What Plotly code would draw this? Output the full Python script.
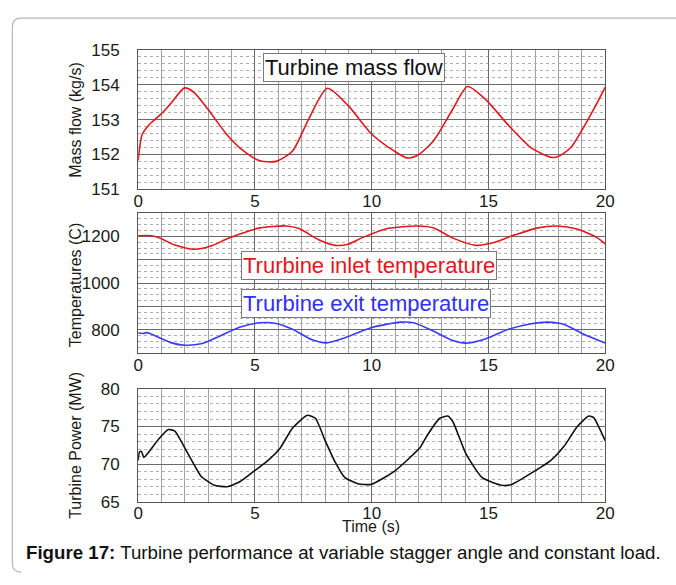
import plotly.graph_objects as go

W, H = 676, 585

# Turbine mass flow (kg/s)
mass_time = [0, 0.17, 0.45, 1.0, 1.43, 1.99, 2.41, 2.97, 3.81, 4.51, 5.21, 5.91, 6.61, 7.31,
             8.1, 8.99, 9.97, 10.95, 11.51, 11.93, 12.63, 13.48, 14.1, 14.87, 15.85, 16.83,
             17.67, 17.95, 18.52, 19.36, 20]
mass_flow = [151.83, 152.57, 152.84, 153.17, 153.49, 153.91, 153.77, 153.31, 152.56, 152.10,
             151.82, 151.80, 152.10, 153.03, 153.90, 153.40, 152.60, 152.10, 151.90, 151.96,
             152.38, 153.31, 153.95, 153.58, 152.84, 152.19, 151.92, 151.93, 152.20, 153.12,
             153.93]

# Turbine inlet temperature (C)
inlet_time = [0, 0.59, 1.0, 1.57, 2.41, 3.11, 3.81, 4.51, 5.21, 6.33, 6.89, 7.73, 8.43, 8.99,
              9.55, 10.67, 11.93, 12.63, 13.48, 14.45, 15.15, 16.13, 17.11, 17.95, 18.79,
              19.63, 20]
inlet_temp = [1203, 1203, 1190, 1163, 1145, 1159, 1190, 1216, 1237, 1245, 1234, 1186, 1162,
              1167, 1193, 1234, 1245, 1237, 1193, 1162, 1172, 1207, 1237, 1245, 1232, 1196,
              1168]

# Turbine exit temperature (C)
exit_time = [0, 0.2, 0.38, 0.87, 1.43, 1.99, 2.69, 3.53, 4.37, 5.21, 5.91, 6.61, 7.45, 8.05,
             8.99, 9.97, 11.23, 11.79, 12.63, 13.48, 14.03, 14.87, 15.85, 16.83, 17.53, 18.24,
             19.08, 20]
exit_temp = [786, 784, 788, 768, 744, 734, 740, 775, 812, 830, 827, 802, 757, 744, 771, 809,
             833, 830, 795, 754, 743, 761, 802, 826, 833, 823, 781, 743]

# Turbine power (MW)
power_time = [0, 0.05, 0.14, 0.24, 0.45, 0.87, 1.29, 1.57, 2.13, 2.69, 3.25, 3.81, 4.37, 4.93,
              5.49, 6.05, 6.61, 7.24, 7.59, 8.01, 8.43, 8.85, 9.41, 9.97, 10.95, 12.07, 12.35,
              12.91, 13.26, 13.48, 14.03, 14.73, 15.57, 15.99, 16.83, 17.67, 18.24, 18.80,
              19.29, 19.50, 20]
power = [70.5, 71.6, 71.7, 70.9, 71.6, 73.3, 74.6, 74.4, 71.4, 68.4, 67.2, 67.0, 67.7, 69.0,
         70.3, 72.0, 74.8, 76.5, 76.1, 73.1, 70.3, 68.2, 67.4, 67.3, 69.0, 72.2, 73.7, 76.1,
         76.4, 75.6, 71.4, 68.2, 67.2, 67.3, 68.8, 70.5, 72.4, 75.0, 76.4, 76.2, 73.1]

x_ticks = [0, 5, 10, 15, 20]
mass_ticks = [151, 152, 153, 154, 155]
temp_ticks = [700, 800, 900, 1000, 1100, 1200, 1300]
temp_labels = ["", "800", "", "1000", "", "1200", ""]
power_ticks = [65, 70, 75, 80]


def px_x(p):
    return p / W


def px_y(p):
    return 1 - p / H


x_dom = [px_x(136), px_x(613)]
dom1 = [px_y(186.3), px_y(42.3)]
dom2 = [px_y(355.7), px_y(211)]
dom3 = [px_y(509.3), px_y(392.7)]

FONT = "Liberation Sans, Arial, sans-serif"
tick_font = dict(family=FONT, size=17, color="#1a1a1a")
MAJOR = "#6a6a6a"
MINOR_V = "#a0a0a0"
MINOR_H = "#b0b0b0"

fig = go.Figure()
fig.add_trace(go.Scatter(x=mass_time, y=mass_flow, mode="lines",
                         line=dict(color="#e3161c", width=1.6, shape="spline", smoothing=0.7),
                         xaxis="x", yaxis="y", showlegend=False))
fig.add_trace(go.Scatter(x=inlet_time, y=inlet_temp, mode="lines",
                         line=dict(color="#e3161c", width=1.6, shape="spline", smoothing=0.7),
                         xaxis="x2", yaxis="y2", showlegend=False))
fig.add_trace(go.Scatter(x=exit_time, y=exit_temp, mode="lines",
                         line=dict(color="#3a3aff", width=1.6, shape="spline", smoothing=0.7),
                         xaxis="x2", yaxis="y2", showlegend=False))
fig.add_trace(go.Scatter(x=power_time, y=power, mode="lines",
                         line=dict(color="#111111", width=1.6, shape="spline", smoothing=0.5),
                         xaxis="x3", yaxis="y3", showlegend=False))


def xaxis(anchor):
    return dict(domain=x_dom, anchor=anchor, range=[0, 20], tickmode="array",
                tickvals=x_ticks, ticks="", tickfont=tick_font, ticklabelstandoff=-4,
                showline=True, linecolor="#555555", linewidth=1.2, mirror=True,
                showgrid=True, gridcolor=MAJOR, gridwidth=1, zeroline=False,
                minor=dict(dtick=1, tick0=0, showgrid=True, gridcolor=MINOR_V,
                           griddash="solid", gridwidth=1))


def yaxis(anchor, dom, rng, vals, labels, minor_step):
    return dict(domain=dom, anchor=anchor, range=rng, tickmode="array",
                tickvals=vals, ticktext=labels, ticks="", tickfont=tick_font,
                ticklabelstandoff=14,
                showline=True, linecolor="#555555", linewidth=1.2, mirror=True,
                showgrid=True, gridcolor=MAJOR, gridwidth=1, zeroline=False,
                minor=dict(dtick=minor_step, tick0=rng[0], showgrid=True,
                           gridcolor=MINOR_H, griddash="dot", gridwidth=1))


fig.update_layout(
    width=W, height=H,
    margin=dict(l=0, r=0, t=0, b=0),
    paper_bgcolor="white", plot_bgcolor="white",
    font=dict(family=FONT, color="#1a1a1a"),
    xaxis=xaxis("y"),
    xaxis2=xaxis("y2"),
    xaxis3=xaxis("y3"),
    yaxis=yaxis("x", dom1, [151, 155], mass_ticks, [str(v) for v in mass_ticks], 0.2),
    yaxis2=yaxis("x2", dom2, [700, 1300], temp_ticks, temp_labels, 25),
    yaxis3=yaxis("x3", dom3, [65, 80], power_ticks, [str(v) for v in power_ticks], 1),
)

annotations = []
# axis titles
for text, yc in [("Mass flow (kg/s)", 115), ("Temperatures (C)", 286),
                 ("Turbine Power (MW)", 451)]:
    annotations.append(dict(text=text, x=px_x(72), y=px_y(yc), xref="paper", yref="paper",
                            textangle=-90, showarrow=False, xanchor="center", yanchor="middle",
                            font=dict(family=FONT, size=16, color="#1a1a1a")))
annotations.append(dict(text="Time (s)", x=px_x(374), y=px_y(535), xref="paper", yref="paper",
                        showarrow=False, xanchor="center", yanchor="middle",
                        font=dict(family=FONT, size=16, color="#1a1a1a")))

# labelled boxes inside the panels
for text, xc, yc, color in [("Turbine mass flow", 356, 60, "#111111"),
                            ("Trurbine inlet temperature", 372, 265, "#e3161c"),
                            ("Trurbine exit temperature", 369, 304, "#2f2fff")]:
    annotations.append(dict(text=text, x=px_x(xc), y=px_y(yc), xref="paper", yref="paper",
                            showarrow=False, xanchor="center", yanchor="middle",
                            bgcolor="white", bordercolor="#7a7a7a", borderwidth=1, borderpad=1,
                            font=dict(family=FONT, size=22, color=color)))

# caption
annotations.append(dict(text="<b>Figure 17:</b> Turbine performance at variable stagger angle and constant load.",
                        x=px_x(20), y=px_y(562), xref="paper", yref="paper", showarrow=False,
                        xanchor="left", yanchor="middle", borderpad=0,
                        font=dict(family=FONT, size=18.7, color="#111111")))
fig.update_layout(annotations=annotations)

# rounded frame around the figure
l, t, r, b, rad = 7.5, 9.5, 690, 582, 9
path = (f"M {px_x(l + rad)},{px_y(t)} L {px_x(r)},{px_y(t)} "
        f"M {px_x(l + rad)},{px_y(t)} Q {px_x(l)},{px_y(t)} {px_x(l)},{px_y(t + rad)} "
        f"L {px_x(l)},{px_y(b - rad)} Q {px_x(l)},{px_y(b)} {px_x(l + rad)},{px_y(b)}")
fig.add_shape(type="path", path=path, xref="paper", yref="paper",
              line=dict(color="#b8b8b8", width=1.2))

fig.write_html("out.html")
